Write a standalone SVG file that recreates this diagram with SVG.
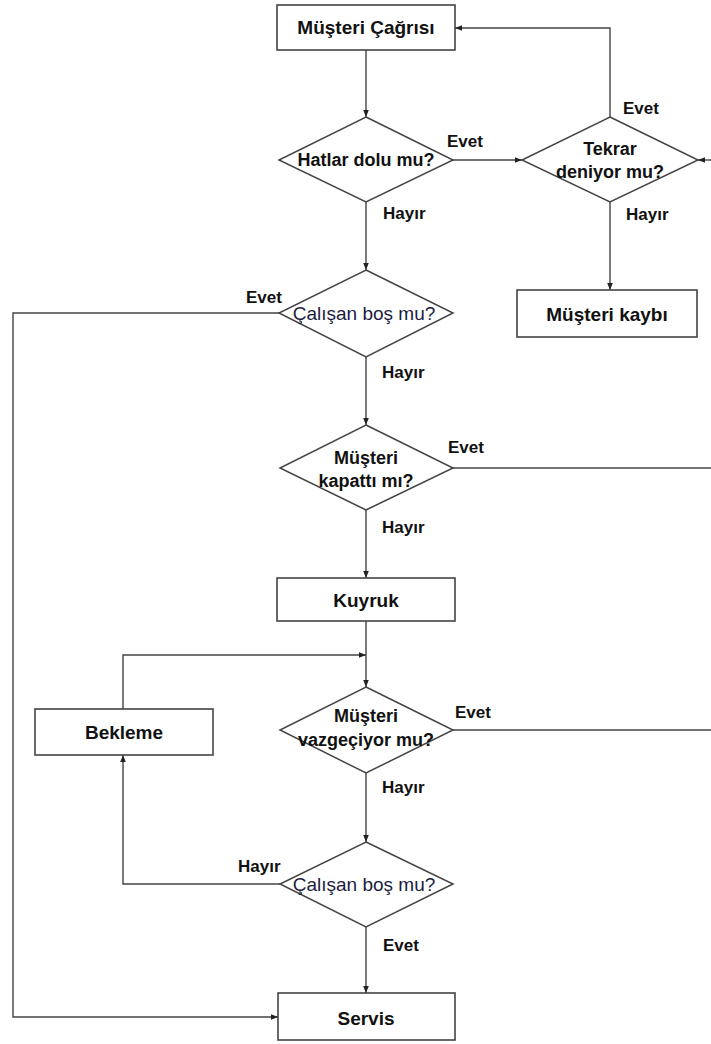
<svg xmlns="http://www.w3.org/2000/svg" width="711" height="1044" viewBox="0 0 711 1044">
<defs>
<marker id="ah" viewBox="0 0 10 10" refX="10" refY="5" markerWidth="7" markerHeight="7" markerUnits="userSpaceOnUse" orient="auto">
<path d="M0,1 L10,5 L0,9 Z" fill="#222"/>
</marker>
</defs>
<style>
.box{fill:#fff;stroke:#444;stroke-width:1.6}
.dia{fill:#fff;stroke:#444;stroke-width:1.5}
.t{font-family:"Liberation Sans",Arial,sans-serif;font-weight:bold;font-size:19px;fill:#111;text-anchor:middle;dominant-baseline:central}
.d{font-family:"Liberation Sans",Arial,sans-serif;font-weight:bold;font-size:18px;fill:#111;text-anchor:middle;dominant-baseline:central}
.q{font-family:"Liberation Sans",Arial,sans-serif;font-size:19px;fill:#1c1c40;text-anchor:middle;dominant-baseline:central}
.l{font-family:"Liberation Sans",Arial,sans-serif;font-weight:bold;font-size:17px;fill:#111;dominant-baseline:central}
.c{fill:none;stroke:#444;stroke-width:1.4}
</style>
<rect width="711" height="1044" fill="#fff"/>
<g id="connectors">
<path class="c" d="M366,50 V117" marker-end="url(#ah)"/>
<path class="c" d="M453,160 H522" marker-end="url(#ah)"/>
<path class="c" d="M610,117 V28 H455" marker-end="url(#ah)"/>
<path class="c" d="M711,160 H698" marker-end="url(#ah)"/>
<path class="c" d="M366,202 V270" marker-end="url(#ah)"/>
<path class="c" d="M610,202 V290" marker-end="url(#ah)"/>
<path class="c" d="M279,313 H13 V1017 H278" marker-end="url(#ah)"/>
<path class="c" d="M366,357 V425" marker-end="url(#ah)"/>
<path class="c" d="M453,468 H711"/>
<path class="c" d="M366,510 V578" marker-end="url(#ah)"/>
<path class="c" d="M366,621 V687" marker-end="url(#ah)"/>
<path class="c" d="M123,709 V655 H366" marker-end="url(#ah)"/>
<path class="c" d="M453,730 H711"/>
<path class="c" d="M366,773 V842" marker-end="url(#ah)"/>
<path class="c" d="M280,884 H123 V755" marker-end="url(#ah)"/>
<path class="c" d="M366,927 V993" marker-end="url(#ah)"/>
<text class="l" x="447" y="141">Evet</text>
<text class="l" x="623" y="108">Evet</text>
<text class="l" x="383" y="213">Hayır</text>
<text class="l" x="626" y="214">Hayır</text>
<text class="l" x="246" y="297">Evet</text>
<text class="l" x="382" y="372">Hayır</text>
<text class="l" x="448" y="447">Evet</text>
<text class="l" x="382" y="527">Hayır</text>
<text class="l" x="455" y="712">Evet</text>
<text class="l" x="382" y="787">Hayır</text>
<text class="l" x="238" y="866">Hayır</text>
<text class="l" x="383" y="945">Evet</text>
</g>
<g id="n1"><rect class="box" x="277" y="5" width="178" height="45"/><text class="t" x="366" y="27">Müşteri Çağrısı</text></g>
<g id="n2"><polygon class="dia" points="366,117 453,160 366,202 279,160"/><text class="d" x="366" y="160">Hatlar dolu mu?</text></g>
<g id="n3"><polygon class="dia" points="610,117 698,160 610,202 522,160"/><text class="d" x="610" y="149">Tekrar</text><text class="d" x="610" y="172">deniyor mu?</text></g>
<g id="n4"><rect class="box" x="517" y="290" width="180" height="47"/><text class="t" x="607" y="314">Müşteri kaybı</text></g>
<g id="n5"><polygon class="dia" points="366,270 453,313 366,357 279,313"/><text class="q" x="364" y="313">Çalışan boş mu?</text></g>
<g id="n6"><polygon class="dia" points="366,425 453,468 366,510 280,468"/><text class="d" x="366" y="458">Müşteri</text><text class="d" x="366" y="481">kapattı mı?</text></g>
<g id="n7"><rect class="box" x="277" y="578" width="178" height="43"/><text class="t" x="366" y="600">Kuyruk</text></g>
<g id="n8"><rect class="box" x="35" y="709" width="178" height="46"/><text class="t" x="124" y="732">Bekleme</text></g>
<g id="n9"><polygon class="dia" points="366,687 453,730 366,773 280,730"/><text class="d" x="366" y="716">Müşteri</text><text class="d" x="366" y="740">vazgeçiyor mu?</text></g>
<g id="n10"><polygon class="dia" points="366,842 453,884 366,927 280,884"/><text class="q" x="364" y="884">Çalışan boş mu?</text></g>
<g id="n11"><rect class="box" x="278" y="993" width="177" height="47"/><text class="t" x="366" y="1018">Servis</text></g>
</svg>
